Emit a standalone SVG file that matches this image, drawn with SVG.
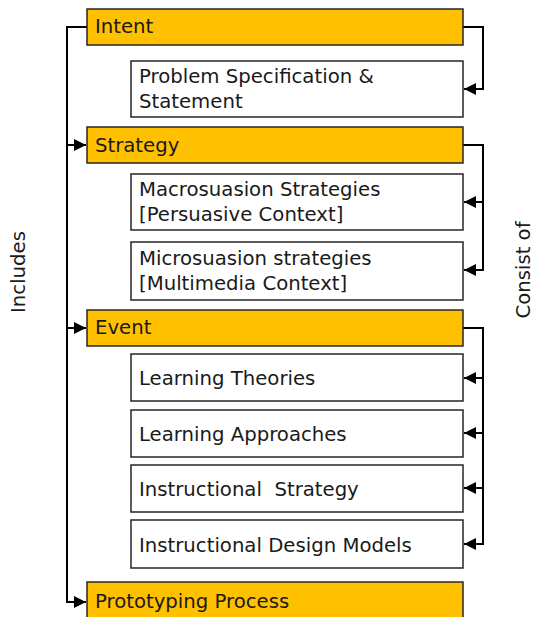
<svg xmlns="http://www.w3.org/2000/svg" width="536" height="617" viewBox="0 0 536 617">
<style>
.y{fill:#FFC000;stroke:#262626;stroke-width:1.5}
.w{fill:#fff;stroke:#262626;stroke-width:1.5}
text{font-family:"DejaVu Sans","Liberation Sans",Arial,sans-serif;font-size:19.7px;fill:#1a1a1a;white-space:pre}
.c{fill:none;stroke:#000;stroke-width:2}
</style>
<defs>
<marker id="a" markerWidth="12" markerHeight="12" refX="12" refY="6" orient="auto" markerUnits="userSpaceOnUse" viewBox="0 0 12 12">
<path d="M0,0 L12,6 L0,12 Z" fill="#000"/>
</marker>
</defs>
<rect width="536" height="617" fill="#fff"/>
<g id="connectors">
<path class="c" d="M87,27 H67 V145 H86" marker-end="url(#a)"/>
<path class="c" d="M67,145 V328 H86" marker-end="url(#a)"/>
<path class="c" d="M67,328 V602 H86" marker-end="url(#a)"/>
<path class="c" d="M463,27 H483 V89 H464" marker-end="url(#a)"/>
<path class="c" d="M463,145 H483 V202 H464" marker-end="url(#a)"/>
<path class="c" d="M483,202 V270 H464" marker-end="url(#a)"/>
<path class="c" d="M463,328 H483 V378 H464" marker-end="url(#a)"/>
<path class="c" d="M483,378 V433 H464" marker-end="url(#a)"/>
<path class="c" d="M483,433 V488 H464" marker-end="url(#a)"/>
<path class="c" d="M483,488 V544 H464" marker-end="url(#a)"/>
</g>
<g id="intent"><rect class="y" x="87" y="9" width="376" height="36"/><text x="95" y="33">Intent</text></g>
<g id="problem"><rect class="w" x="131" y="61" width="332" height="56"/><text x="139" y="83">Problem Specification &amp;</text><text x="139" y="108">Statement</text></g>
<g id="strategy"><rect class="y" x="87" y="127" width="376" height="36"/><text x="95" y="152">Strategy</text></g>
<g id="macro"><rect class="w" x="131" y="174" width="332" height="56"/><text x="139" y="196">Macrosuasion Strategies</text><text x="139" y="221">[Persuasive Context]</text></g>
<g id="micro"><rect class="w" x="131" y="242" width="332" height="58"/><text x="139" y="265">Microsuasion strategies</text><text x="139" y="290">[Multimedia Context]</text></g>
<g id="event"><rect class="y" x="87" y="310" width="376" height="36"/><text x="95" y="334">Event</text></g>
<g id="theories"><rect class="w" x="131" y="354" width="332" height="47"/><text x="139" y="385">Learning Theories</text></g>
<g id="approaches"><rect class="w" x="131" y="410" width="332" height="47"/><text x="139" y="441">Learning Approaches</text></g>
<g id="instrategy"><rect class="w" x="131" y="465" width="332" height="47"/><text x="139" y="496">Instructional  Strategy</text></g>
<g id="idm"><rect class="w" x="131" y="520" width="332" height="48"/><text x="139" y="552">Instructional Design Models</text></g>
<g id="prototyping"><rect class="y" x="87" y="582" width="376" height="40"/><text x="95" y="608">Prototyping Process</text></g>
<g id="labels">
<text transform="translate(25,272) rotate(-90)" text-anchor="middle">Includes</text>
<text transform="translate(530,270) rotate(-90)" text-anchor="middle">Consist of</text>
</g>
</svg>
